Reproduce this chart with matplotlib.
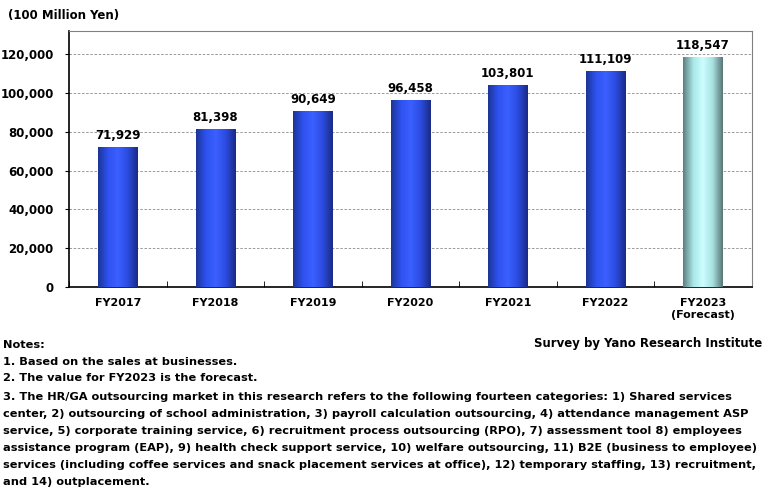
#!/usr/bin/env python3
"""HR/GA outsourcing market size bar chart (Yano Research)."""

import matplotlib

matplotlib.use("Agg")
import matplotlib.pyplot as plt
import numpy as np
from matplotlib.colors import LinearSegmentedColormap

categories = ["FY2017", "FY2018", "FY2019", "FY2020", "FY2021", "FY2022", "FY2023\n(Forecast)"]
values = [71929, 81398, 90649, 96458, 103801, 111109, 118547]
is_forecast = [False, False, False, False, False, False, True]
yticks = [0, 20000, 40000, 60000, 80000, 100000, 120000]

notes = [
    "Notes:",
    "1. Based on the sales at businesses.",
    "2. The value for FY2023 is the forecast.",
    "3. The HR/GA outsourcing market in this research refers to the following fourteen categories: 1) Shared services",
    "center, 2) outsourcing of school administration, 3) payroll calculation outsourcing, 4) attendance management ASP",
    "service, 5) corporate training service, 6) recruitment process outsourcing (RPO), 7) assessment tool 8) employees",
    "assistance program (EAP), 9) health check support service, 10) welfare outsourcing, 11) B2E (business to employee)",
    "services (including coffee services and snack placement services at office), 12) temporary staffing, 13) recruitment,",
    "and 14) outplacement.",
]
# vertical pixel centre of each notes line
notes_y = [345, 362, 378, 397, 414, 431, 448, 465, 482]

plt.rcParams["font.family"] = ["DejaVu Sans"]
plt.rcParams["font.weight"] = "bold"

blue_cmap = LinearSegmentedColormap.from_list(
    "blue", ["#1c3597", "#2f52f0", "#3a60ff", "#2c4be0", "#1a2c86"])
teal_cmap = LinearSegmentedColormap.from_list(
    "teal", ["#5e7f7f", "#a9e6e6", "#ccffff", "#a8e0e0", "#5b7777"])

fig = plt.figure(figsize=(7.67, 4.94), dpi=100)
ax = fig.add_axes([0.090, 0.419, 0.890, 0.518])

x = np.arange(len(categories))
width = 0.40
grad = np.linspace(0, 1, 64).reshape(1, -1)
for xi, v, fc in zip(x, values, is_forecast):
    ax.imshow(grad, cmap=teal_cmap if fc else blue_cmap, aspect="auto",
              extent=(xi - width / 2, xi + width / 2, 0, v), zorder=3)
    ax.text(xi, v + 2800, f"{v:,}", ha="center", va="bottom", fontsize=8.5,
            fontweight="bold", zorder=4)

ax.set_xlim(-0.5, len(categories) - 0.5)
ax.set_ylim(0, 132000)
ax.set_yticks(yticks)
ax.set_yticklabels([f"{t:,}" for t in yticks], fontsize=8.5, fontweight="bold")
ax.yaxis.grid(True, linestyle=(0, (3, 2)), color="#8a8a8a", linewidth=0.6)
ax.set_axisbelow(True)

ax.set_xticks(x)
ax.set_xticklabels(categories, fontsize=8, fontweight="bold")
ax.set_xticks(np.arange(-0.5, len(categories)), minor=True)
ax.tick_params(axis="x", which="major", length=0, pad=8)
ax.tick_params(axis="x", which="minor", direction="in", length=4, color="black")
ax.tick_params(axis="y", direction="out", length=3, pad=8)

for side in ("top", "right"):
    ax.spines[side].set_color("#808080")
for side in ("left", "bottom"):
    ax.spines[side].set_color("black")
    ax.spines[side].set_linewidth(1.2)

fig.text(8 / 767, 1 - 15 / 494, "(100 Million Yen)", ha="left", va="center",
         fontsize=8.5, fontweight="bold")
fig.text(762 / 767, 1 - 343 / 494, "Survey by Yano Research Institute", ha="right",
         va="center", fontsize=8.5, fontweight="bold")

for line, ypx in zip(notes, notes_y):
    fig.text(3 / 767, 1 - ypx / 494, line, ha="left", va="center",
             fontsize=8.2, fontweight="bold")

fig.savefig("out.png", dpi=100)
